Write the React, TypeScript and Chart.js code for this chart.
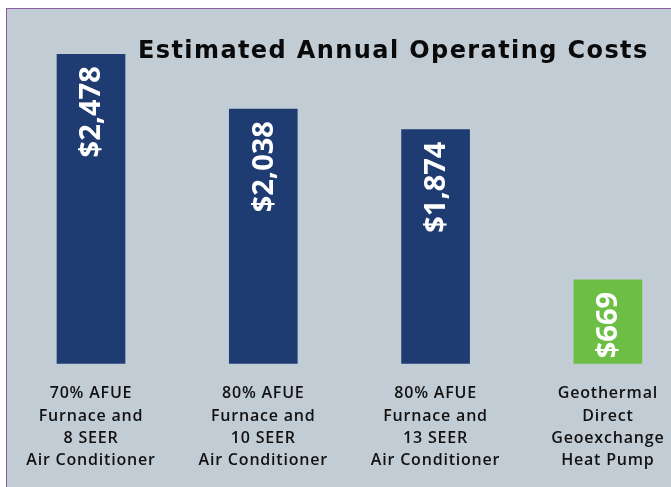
import React, { useEffect, useRef } from "react";
import { Chart, registerables } from "chart.js";

Chart.register(...registerables);

const TITLE = "Estimated Annual Operating Costs";
const CATEGORIES: string[][] = [
  ["70% AFUE", "Furnace and", "8 SEER", "Air Conditioner"],
  ["80% AFUE", "Furnace and", "10 SEER", "Air Conditioner"],
  ["80% AFUE", "Furnace and", "13 SEER", "Air Conditioner"],
  ["Geothermal", "Direct", "Geoexchange", "Heat Pump"],
];
const COSTS = [2478, 2038, 1874, 669];
const VALUE_LABELS = ["$2,478", "$2,038", "$1,874", "$669"];
const BAR_COLORS = ["#1e3c72", "#1e3c72", "#1e3c72", "#6dbe45"];

const spacingPlugin = {
  id: "spacing",
  beforeDraw(chart: any) {
    (chart.ctx as any).letterSpacing = "0.8px";
  },
};

const overlayPlugin = {
  id: "overlay",
  afterDatasetsDraw(chart: any) {
    const ctx = chart.ctx;
    const meta = chart.getDatasetMeta(0);
    ctx.save();
    ctx.letterSpacing = "0px";
    ctx.fillStyle = "#ffffff";
    ctx.font = "bold 29px 'Open Sans', sans-serif";
    ctx.textAlign = "right";
    ctx.textBaseline = "middle";
    meta.data.forEach((bar: any, i: number) => {
      ctx.save();
      ctx.translate(bar.x + 1, bar.y + 12);
      ctx.rotate(-Math.PI / 2);
      ctx.fillText(VALUE_LABELS[i], 0, 0);
      ctx.restore();
    });
    ctx.restore();

    ctx.save();
    ctx.letterSpacing = "1.4px";
    ctx.fillStyle = "#0a0a0a";
    ctx.font = "bold 24px 'DejaVu Sans', sans-serif";
    ctx.textAlign = "left";
    ctx.textBaseline = "alphabetic";
    ctx.fillText(TITLE, 131, 49);
    ctx.restore();
  },
};

export default function App() {
  const ref = useRef<HTMLCanvasElement>(null);
  useEffect(() => {
    if (!ref.current) return;
    const chart = new Chart(ref.current, {
      type: "bar",
      data: {
        labels: CATEGORIES,
        datasets: [
          {
            data: COSTS,
            backgroundColor: BAR_COLORS,
            barThickness: 68,
            clip: false as any,
          },
        ],
      },
      options: {
        animation: false,
        responsive: false,
        layout: { padding: { top: 30, left: 84, right: 56, bottom: 4 } },
        plugins: { legend: { display: false }, tooltip: { enabled: false }, title: { display: false } },
        scales: {
          x: {
            offset: false,
            grid: { display: false },
            border: { display: false },
            ticks: {
              color: "#111111",
              padding: 11,
              maxRotation: 0,
              autoSkip: false,
              font: { family: "'Open Sans', sans-serif", size: 16, weight: 600 as any, lineHeight: 1.4 },
            },
          },
          y: { display: false, min: 0, max: 2600 },
        },
      },
      plugins: [spacingPlugin, overlayPlugin],
    });
    return () => chart.destroy();
  }, []);
  return (
    <div
      style={{
        position: "fixed",
        left: 6,
        top: 8,
        width: 665,
        height: 479,
        boxSizing: "border-box",
        background: "#c2ccd5",
        borderTop: "1px solid #8b5c9e",
        borderLeft: "1px solid #8b5c9e",
      }}
    >
      <canvas ref={ref} width={664} height={478} style={{ display: "block" }} />
    </div>
  );
}
